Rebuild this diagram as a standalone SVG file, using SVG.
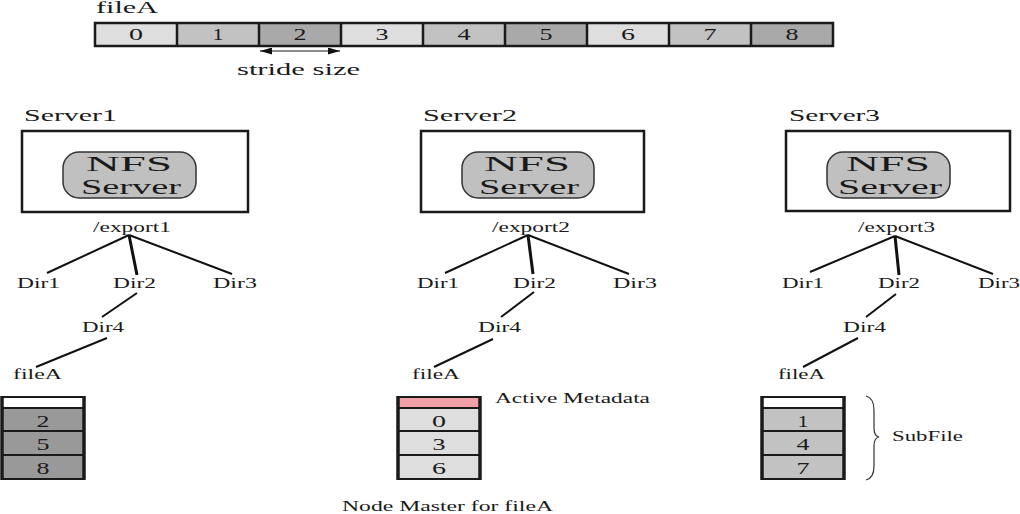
<svg xmlns="http://www.w3.org/2000/svg" width="1020" height="514" viewBox="0 0 1020 514">
<defs>
<marker id="ah" viewBox="0 0 10 10" refX="10" refY="5" markerWidth="12" markerHeight="7" markerUnits="userSpaceOnUse" orient="auto-start-reverse" preserveAspectRatio="none"><path d="M0,0 L10,5 L0,10 Z" fill="#111"/></marker>
</defs>
<style>
text{font-family:"Liberation Serif","Times New Roman",serif;fill:#1a1a1a;}
.lbl{font-size:15px;}
.big{font-size:17px;}
.nfs{font-size:21px;text-anchor:middle;}
.num{font-size:17px;text-anchor:middle;}
.c0{fill:#dedede;}
.c1{fill:#c2c2c2;}
.c2{fill:#a9a9a9;}
.srv{fill:#fff;stroke:#1a1a1a;stroke-width:2.5;}
.nfsbox{fill:#c0c0c0;stroke:#333;stroke-width:1.5;}
.edge{stroke:#111;stroke-width:2;fill:none;}
.edge2{stroke:#111;stroke-width:3;fill:none;}
.cell{stroke:#1a1a1a;stroke-width:2;}
.side{stroke:#1a1a1a;stroke-width:3.5;}
</style>

<g id="fileA-bar">
<text class="big" x="96" y="13" textLength="62" lengthAdjust="spacingAndGlyphs">fileA</text>
<rect class="c0" x="95" y="23" width="82" height="23"/>
<rect class="c1" x="177" y="23" width="82" height="23"/>
<rect class="c2" x="259" y="23" width="82" height="23"/>
<rect class="c0" x="341" y="23" width="82" height="23"/>
<rect class="c1" x="423" y="23" width="82" height="23"/>
<rect class="c2" x="505" y="23" width="82" height="23"/>
<rect class="c0" x="587" y="23" width="82" height="23"/>
<rect class="c1" x="669" y="23" width="82" height="23"/>
<rect class="c2" x="751" y="23" width="82" height="23"/>
<rect x="95" y="23" width="738" height="23" fill="none" stroke="#1a1a1a" stroke-width="2.5"/>
<g stroke="#1a1a1a" stroke-width="2.5">
<line x1="177" y1="23" x2="177" y2="46"/><line x1="259" y1="23" x2="259" y2="46"/><line x1="341" y1="23" x2="341" y2="46"/><line x1="423" y1="23" x2="423" y2="46"/><line x1="505" y1="23" x2="505" y2="46"/><line x1="587" y1="23" x2="587" y2="46"/><line x1="669" y1="23" x2="669" y2="46"/><line x1="751" y1="23" x2="751" y2="46"/>
</g>
<text class="num" x="136" y="40" textLength="14" lengthAdjust="spacingAndGlyphs">0</text>
<text class="num" x="218" y="40" textLength="11" lengthAdjust="spacingAndGlyphs">1</text>
<text class="num" x="300" y="40" textLength="13" lengthAdjust="spacingAndGlyphs">2</text>
<text class="num" x="382" y="40" textLength="13" lengthAdjust="spacingAndGlyphs">3</text>
<text class="num" x="464" y="40" textLength="13" lengthAdjust="spacingAndGlyphs">4</text>
<text class="num" x="546" y="40" textLength="13" lengthAdjust="spacingAndGlyphs">5</text>
<text class="num" x="628" y="40" textLength="14" lengthAdjust="spacingAndGlyphs">6</text>
<text class="num" x="710" y="40" textLength="13" lengthAdjust="spacingAndGlyphs">7</text>
<text class="num" x="792" y="40" textLength="13" lengthAdjust="spacingAndGlyphs">8</text>
<line x1="260" y1="51" x2="340" y2="51" stroke="#666" stroke-width="1.5" marker-start="url(#ah)" marker-end="url(#ah)"/>
<text class="big" x="237" y="75" textLength="123" lengthAdjust="spacingAndGlyphs">stride size</text>
</g>

<g id="server1">
<text class="big" x="24" y="121" textLength="93" lengthAdjust="spacingAndGlyphs">Server1</text>
<rect class="srv" x="22" y="131" width="226" height="81"/>
<rect class="nfsbox" x="63" y="152" width="133" height="46" rx="16"/>
<text class="nfs" x="129" y="171" textLength="86" lengthAdjust="spacingAndGlyphs">NFS</text>
<text class="nfs" x="131" y="194" textLength="100" lengthAdjust="spacingAndGlyphs">Server</text>
</g>
<g id="server2">
<text class="big" x="423" y="121" textLength="94" lengthAdjust="spacingAndGlyphs">Server2</text>
<rect class="srv" x="421" y="131" width="223" height="81"/>
<rect class="nfsbox" x="462" y="152" width="132" height="46" rx="16"/>
<text class="nfs" x="527" y="171" textLength="86" lengthAdjust="spacingAndGlyphs">NFS</text>
<text class="nfs" x="529" y="194" textLength="100" lengthAdjust="spacingAndGlyphs">Server</text>
</g>
<g id="server3">
<text class="big" x="789" y="121" textLength="91" lengthAdjust="spacingAndGlyphs">Server3</text>
<rect class="srv" x="786" y="131" width="224" height="80"/>
<rect class="nfsbox" x="827" y="152" width="123" height="46" rx="16"/>
<text class="nfs" x="888" y="171" textLength="84" lengthAdjust="spacingAndGlyphs">NFS</text>
<text class="nfs" x="890" y="194" textLength="104" lengthAdjust="spacingAndGlyphs">Server</text>
</g>

<g id="tree1">
<text class="lbl" x="93" y="232" textLength="78" lengthAdjust="spacingAndGlyphs">/export1</text>
<text class="lbl" x="17" y="288" textLength="43" lengthAdjust="spacingAndGlyphs">Dir1</text>
<text class="lbl" x="113" y="288" textLength="43" lengthAdjust="spacingAndGlyphs">Dir2</text>
<text class="lbl" x="213" y="288" textLength="44" lengthAdjust="spacingAndGlyphs">Dir3</text>
<text class="lbl" x="82" y="332" textLength="42" lengthAdjust="spacingAndGlyphs">Dir4</text>
<text class="lbl" x="13" y="379" textLength="49" lengthAdjust="spacingAndGlyphs">fileA</text>
</g>
<g id="tree2">
<text class="lbl" x="492" y="232" textLength="78" lengthAdjust="spacingAndGlyphs">/export2</text>
<text class="lbl" x="417" y="288" textLength="42" lengthAdjust="spacingAndGlyphs">Dir1</text>
<text class="lbl" x="513" y="288" textLength="43" lengthAdjust="spacingAndGlyphs">Dir2</text>
<text class="lbl" x="613" y="288" textLength="44" lengthAdjust="spacingAndGlyphs">Dir3</text>
<text class="lbl" x="478" y="332" textLength="43" lengthAdjust="spacingAndGlyphs">Dir4</text>
<text class="lbl" x="412" y="379" textLength="48" lengthAdjust="spacingAndGlyphs">fileA</text>
</g>
<g id="tree3">
<text class="lbl" x="858" y="232" textLength="77" lengthAdjust="spacingAndGlyphs">/export3</text>
<text class="lbl" x="782" y="288" textLength="42" lengthAdjust="spacingAndGlyphs">Dir1</text>
<text class="lbl" x="878" y="288" textLength="42" lengthAdjust="spacingAndGlyphs">Dir2</text>
<text class="lbl" x="978" y="288" textLength="42" lengthAdjust="spacingAndGlyphs">Dir3</text>
<text class="lbl" x="843" y="332" textLength="43" lengthAdjust="spacingAndGlyphs">Dir4</text>
<text class="lbl" x="778" y="379" textLength="47" lengthAdjust="spacingAndGlyphs">fileA</text>
</g>

<g id="connectors">
<line class="edge" x1="129" y1="235" x2="47" y2="273"/>
<line class="edge2" x1="129" y1="235" x2="137" y2="275"/>
<line class="edge" x1="129" y1="235" x2="232" y2="274"/>
<line class="edge" x1="137" y1="293" x2="102" y2="317"/>
<line class="edge" x1="107" y1="338" x2="36" y2="367"/>
<line class="edge" x1="528" y1="235" x2="445" y2="273"/>
<line class="edge2" x1="528" y1="235" x2="533" y2="274"/>
<line class="edge" x1="528" y1="235" x2="629" y2="274"/>
<line class="edge" x1="534" y1="292" x2="501" y2="317"/>
<line class="edge" x1="493" y1="339" x2="434" y2="367"/>
<line class="edge" x1="895" y1="236" x2="810" y2="272"/>
<line class="edge2" x1="895" y1="236" x2="899" y2="275"/>
<line class="edge" x1="895" y1="236" x2="993" y2="274"/>
<line class="edge" x1="896" y1="294" x2="866" y2="317"/>
<line class="edge" x1="858" y1="338" x2="803" y2="367"/>
</g>

<g id="stack1">
<rect x="2" y="397" width="82" height="11" fill="#fff"/>
<rect x="2" y="408" width="82" height="71" fill="#999"/>
<g class="cell"><line x1="2" y1="397" x2="84" y2="397"/><line x1="2" y1="408" x2="84" y2="408"/><line x1="2" y1="431" x2="84" y2="431"/><line x1="2" y1="455" x2="84" y2="455"/><line x1="2" y1="479" x2="84" y2="479"/></g>
<g class="side"><line x1="2" y1="396" x2="2" y2="480"/><line x1="84" y1="396" x2="84" y2="480"/></g>
<text class="num" x="43" y="427" textLength="13" lengthAdjust="spacingAndGlyphs">2</text>
<text class="num" x="43" y="450" textLength="13" lengthAdjust="spacingAndGlyphs">5</text>
<text class="num" x="43" y="474" textLength="13" lengthAdjust="spacingAndGlyphs">8</text>
</g>
<g id="stack2">
<rect x="398" y="397" width="82" height="11" fill="#f0a0a6"/>
<rect x="398" y="408" width="82" height="71" fill="#dedede"/>
<g class="cell"><line x1="398" y1="397" x2="480" y2="397"/><line x1="398" y1="408" x2="480" y2="408"/><line x1="398" y1="431" x2="480" y2="431"/><line x1="398" y1="455" x2="480" y2="455"/><line x1="398" y1="479" x2="480" y2="479"/></g>
<g class="side"><line x1="398" y1="396" x2="398" y2="480"/><line x1="480" y1="396" x2="480" y2="480"/></g>
<text class="num" x="439" y="427" textLength="14" lengthAdjust="spacingAndGlyphs">0</text>
<text class="num" x="439" y="450" textLength="13" lengthAdjust="spacingAndGlyphs">3</text>
<text class="num" x="439" y="474" textLength="14" lengthAdjust="spacingAndGlyphs">6</text>
<text class="lbl" x="495" y="403" textLength="155" lengthAdjust="spacingAndGlyphs">Active Metadata</text>
</g>
<g id="stack3">
<rect x="762" y="397" width="82" height="11" fill="#fff"/>
<rect x="762" y="408" width="82" height="71" fill="#c2c2c2"/>
<g class="cell"><line x1="762" y1="397" x2="844" y2="397"/><line x1="762" y1="408" x2="844" y2="408"/><line x1="762" y1="431" x2="844" y2="431"/><line x1="762" y1="455" x2="844" y2="455"/><line x1="762" y1="479" x2="844" y2="479"/></g>
<g class="side"><line x1="762" y1="396" x2="762" y2="480"/><line x1="844" y1="396" x2="844" y2="480"/></g>
<text class="num" x="803" y="427" textLength="11" lengthAdjust="spacingAndGlyphs">1</text>
<text class="num" x="803" y="450" textLength="13" lengthAdjust="spacingAndGlyphs">4</text>
<text class="num" x="803" y="474" textLength="13" lengthAdjust="spacingAndGlyphs">7</text>
</g>
<g id="subfile">
<path d="M866,396 Q874,398 874,410 L874,428 Q874,436 879,437 Q874,438 874,446 L874,466 Q874,478 866,480" fill="none" stroke="#333" stroke-width="1.2"/>
<text class="lbl" x="892" y="441" textLength="71" lengthAdjust="spacingAndGlyphs">SubFile</text>
</g>
<g id="caption">
<text class="lbl" x="342" y="511" textLength="211" lengthAdjust="spacingAndGlyphs">Node Master for fileA</text>
</g>
</svg>
